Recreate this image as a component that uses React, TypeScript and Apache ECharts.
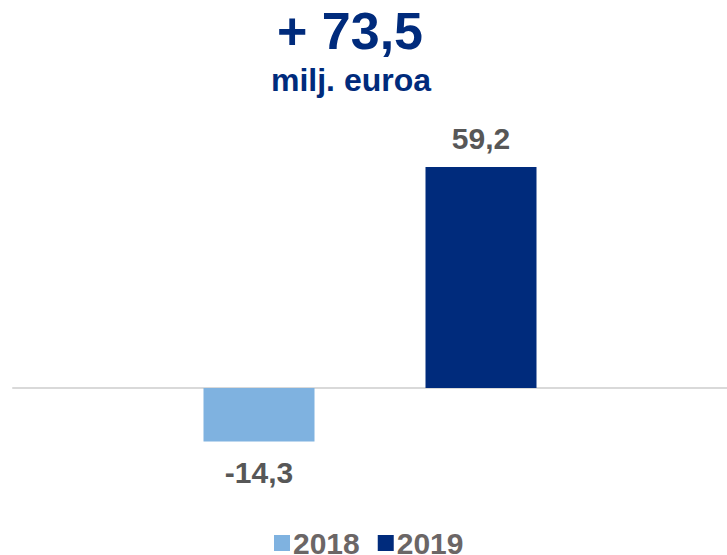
import React, { useEffect, useRef } from "react";
import * as echarts from "echarts";

const categories = ["Tulos"];
const seriesNames = ["2018", "2019"];
const values2018 = [-14.3];
const values2019 = [59.2];
const headline = "+ 73,5";
const unitText = "milj. euroa";

const NAVY = "#002b7c";
const LIGHT = "#7fb2e0";
const LABEL_GRAY = "#575757";
const LEGEND_GRAY = "#6b6666";
const FONT = "'Liberation Sans', Arial, sans-serif";

const fmt = (v: number) => v.toFixed(1).replace(".", ",");

export default function App() {
  const ref = useRef<HTMLDivElement>(null);
  useEffect(() => {
    if (!ref.current) return;
    const chart = echarts.init(ref.current, null, { renderer: "svg" });
    chart.setOption({
      animation: false,
      backgroundColor: "#ffffff",
      grid: { left: 13, right: -2, top: 126.7, bottom: 92.3, containLabel: false },
      xAxis: {
        type: "category",
        data: categories,
        axisLine: { show: true, onZero: true, lineStyle: { color: "#d9d9d9", width: 2 } },
        axisTick: { show: false },
        axisLabel: { show: false },
      },
      yAxis: {
        type: "value",
        min: -20,
        max: 70,
        show: false,
        splitLine: { show: false },
      },
      legend: {
        data: seriesNames,
        left: 269,
        top: 523,
        itemWidth: 16,
        itemHeight: 16,
        itemGap: 18,
        icon: "rect",
        textStyle: {
          fontFamily: FONT,
          fontSize: 30,
          fontWeight: "bold",
          color: LEGEND_GRAY,
          padding: [0, 0, 0, -2],
        },
      },
      graphic: [
        {
          type: "text",
          x: 350,
          y: 31,
          style: {
            text: headline,
            fontFamily: FONT,
            fontSize: 52,
            fontWeight: "bold",
            fill: NAVY,
            align: "center",
            verticalAlign: "middle",
          },
        },
        {
          type: "text",
          x: 351,
          y: 80,
          style: {
            text: unitText,
            fontFamily: FONT,
            fontSize: 32,
            fontWeight: "bold",
            fill: NAVY,
            align: "center",
            verticalAlign: "middle",
          },
        },
      ],
      series: [
        {
          name: seriesNames[0],
          type: "bar",
          data: values2018,
          barWidth: 111,
          barGap: "100%",
          itemStyle: { color: LIGHT },
          label: {
            show: true,
            position: "bottom",
            distance: 16,
            formatter: (p: any) => fmt(p.value),
            fontFamily: FONT,
            fontSize: 30,
            fontWeight: "bold",
            color: LABEL_GRAY,
          },
        },
        {
          name: seriesNames[1],
          type: "bar",
          data: values2019,
          barWidth: 111,
          barGap: "100%",
          itemStyle: { color: NAVY },
          label: {
            show: true,
            position: "top",
            distance: 14,
            formatter: (p: any) => fmt(p.value),
            fontFamily: FONT,
            fontSize: 30,
            fontWeight: "bold",
            color: LABEL_GRAY,
          },
        },
      ],
    });
    return () => chart.dispose();
  }, []);
  return (
    <div
      ref={ref}
      style={{ position: "fixed", left: 0, top: 0, width: 727, height: 555, background: "#fff" }}
    />
  );
}
